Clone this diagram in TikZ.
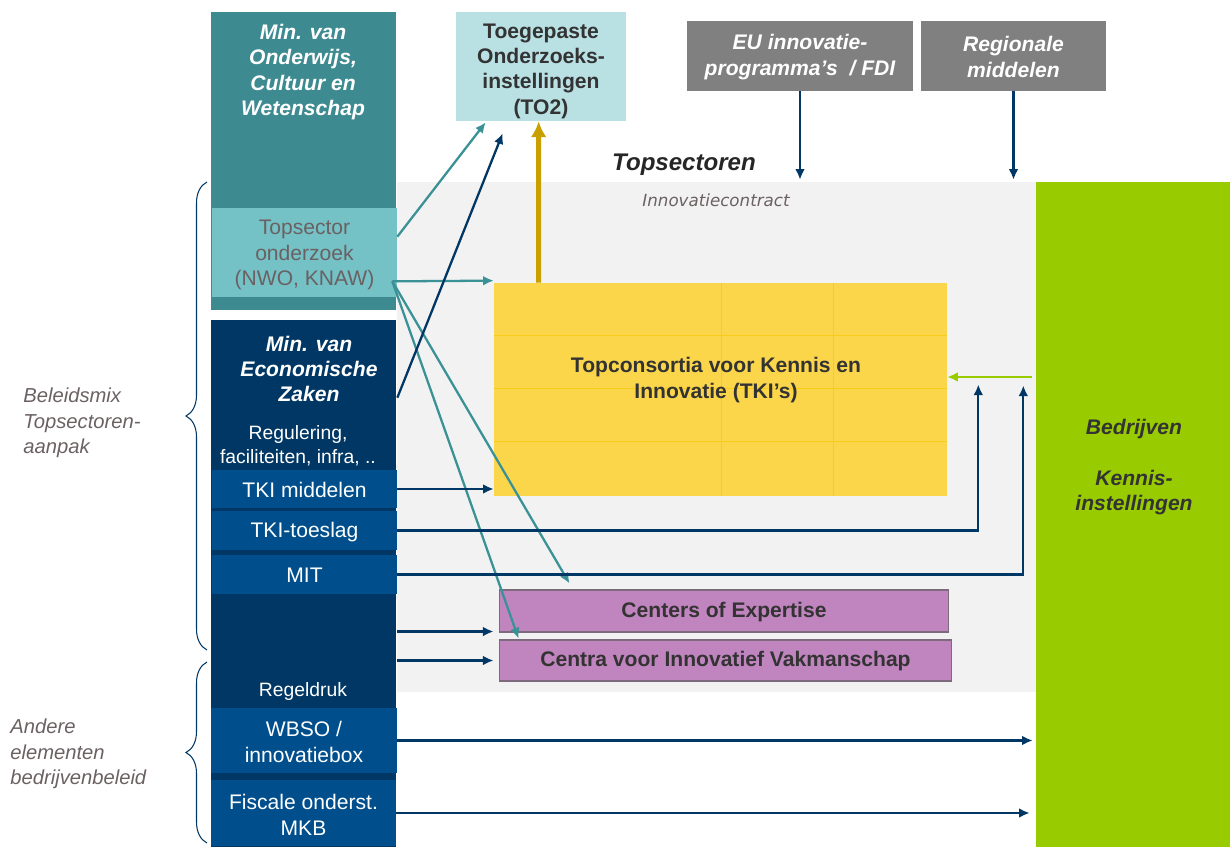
\documentclass[tikz,border=0pt]{standalone}
\usepackage{fontspec}
\setmainfont{Liberation Sans}
\newfontfamily\verdana{DejaVu Sans}
\usetikzlibrary{calc,arrows.meta,decorations.pathreplacing}

\definecolor{ocwteal}{HTML}{3D8B91}
\definecolor{tsoteal}{HTML}{74C1C6}
\definecolor{eznavy}{HTML}{003764}
\definecolor{ezblue}{HTML}{004F8C}
\definecolor{to2blue}{HTML}{B9E0E3}
\definecolor{eugray}{HTML}{808080}
\definecolor{bggray}{HTML}{F2F2F2}
\definecolor{groen}{HTML}{99CC00}
\definecolor{tkigeel}{HTML}{FBD64B}
\definecolor{tkilijn}{HTML}{F9CC1A}
\definecolor{paars}{HTML}{C084BE}
\definecolor{paarsrand}{HTML}{7E6A7D}
\definecolor{pijlteal}{HTML}{3A9196}
\definecolor{goud}{HTML}{C8A000}
\definecolor{labelgrijs}{HTML}{6B6162}
\definecolor{donker}{HTML}{333333}

\begin{document}
\begin{tikzpicture}[x=0.02cm, y=-0.02cm,
        box/.style = {rectangle, inner sep=0pt, minimum width=3.7cm},
        txt/.style = {font=\fontsize{12}{14.4}\selectfont, align=center, inner sep=0pt},
        bi/.style = {font=\fontsize{12}{14.4}\selectfont\bfseries\itshape},
        ar/.style = {line width=1.3pt, eznavy, -{Latex[length=6pt, width=5.5pt]}},
        tar/.style = {line width=1.3pt, pijlteal, -{Latex[length=6pt, width=5.5pt]}}]
        \useasboundingbox (0,0) rectangle (1230,847);

        % topsectoren achtergrond
        \node[fill=bggray, inner sep=0pt, minimum width=12.78cm, minimum height=10.2cm] (bg) at (716.5,437) {};
        \node[txt, font=\fontsize{13.7}{16}\selectfont\bfseries\itshape, text=black!85] (topsec) at (684,165) {Topsectoren};
        \node[txt, font=\verdana\itshape\fontsize{9.5}{11}\selectfont, text=labelgrijs] (contract) at (716,200) {Innovatiecontract};

        \node[box, fill=groen, minimum width=3.88cm, minimum height=13.3cm] (bedr) at (1133,514.5) {};
        \node[txt, bi, text=donker] (bedrtxt) at (1134,467) {Bedrijven\\[14.8pt]Kennis-\\instellingen};

        % ministeries
        \node[box, fill=ocwteal, minimum height=5.96cm] (ocw) at (303.5,161) {};
        \node[txt, bi, text=white] (ocwtxt) at (303,72) {Min. van\\Onderwijs,\\Cultuur en\\Wetenschap};
        \node[box, fill=tsoteal, minimum height=1.78cm] (tso) at (304.5,252.5) {};
        \node[txt, text=labelgrijs] (tsotxt) at (304.5,255) {Topsector\\onderzoek\\(NWO, KNAW)};

        \node[box, fill=eznavy, minimum height=10.54cm] (ez) at (303.5,583.5) {};
        \node[txt, bi, text=white] (eztxt) at (309,369) {Min. van\\Economische\\Zaken};
        \node[txt, font=\fontsize{11}{13.6}\selectfont, text=white] (regul) at (298,446) {Regulering,\\faciliteiten, infra, ..};
        \node[box, fill=ezblue, minimum height=0.76cm] (tkim) at (304.5,489) {};
        \node[txt, text=white] (tkimtxt) at (304.5,489.5) {TKI middelen};
        \node[box, fill=ezblue, minimum height=0.78cm] (tkit) at (304.5,530.5) {};
        \node[txt, text=white] (tkittxt) at (304.5,532) {TKI-toeslag};
        \node[box, fill=ezblue, minimum height=0.78cm] (mit) at (304.5,574.5) {};
        \node[txt, text=white] (mittxt) at (304.5,575) {MIT};
        \node[txt, text=white, font=\fontsize{11}{13}\selectfont] (regeld) at (303,692) {Regeldruk};
        \node[box, fill=ezblue, minimum width=3.72cm, minimum height=1.3cm] (wbso) at (304,740.5) {};
        \node[txt, text=white] (wbsotxt) at (304,742) {WBSO /\\innovatiebox};
        \node[box, fill=ezblue, minimum height=1.32cm] (fisc) at (303.5,813) {};
        \node[txt, text=white] (fisctxt) at (303.5,815) {Fiscale onderst.\\MKB};

        % bovenkant
        \node[box, fill=to2blue, minimum width=3.4cm, minimum height=2.18cm] (to2) at (541,66.5) {};
        \node[txt, font=\fontsize{12}{14.4}\selectfont\bfseries, text=donker] (to2txt) at (541,71) {Toegepaste\\Onderzoeks-\\instellingen\\(TO2)};
        \node[box, fill=eugray, minimum width=4.54cm, minimum height=1.4cm] (eu) at (800,56) {};
        \node[txt, bi, text=white] (eutxt) at (800,57) {EU innovatie-\\programma's\ \ / FDI};
        \node[box, fill=eugray, minimum height=1.4cm] (reg) at (1013.5,56) {};
        \node[txt, bi, text=white] (regtxt) at (1013.5,57) {Regionale\\middelen};

        % TKI's en centra
        \node[box, fill=tkigeel, minimum width=9.06cm, minimum height=4.26cm] (tki) at (720.5,389.5) {};
        \foreach \dx in {228,340}
            \draw[tkilijn, line width=0.4pt] ($(tki.north west)+(\dx,0)$) -- ($(tki.south west)+(\dx,0)$);
        \foreach \dy in {53,106,159}
            \draw[tkilijn, line width=0.4pt] ($(tki.north west)+(0,\dy)$) -- ($(tki.north east)+(0,\dy)$);
        \node[txt, font=\fontsize{12}{14.4}\selectfont\bfseries, text=donker] (tkitxt) at (716,380) {Topconsortia voor Kennis en\\Innovatie (TKI's)};

        \node[box, fill=paars, draw=paarsrand, line width=0.6pt, minimum width=9.0cm, minimum height=0.84cm,
              text height=0.716em, text depth=0pt,
              font=\fontsize{12}{14.4}\selectfont\bfseries, text=donker] (coe) at (724,611) {Centers of Expertise};
        \node[box, fill=paars, draw=paarsrand, line width=0.6pt, minimum width=9.06cm, minimum height=0.82cm,
              text height=0.716em, text depth=0pt,
              font=\fontsize{12}{14.4}\selectfont\bfseries, text=donker] (cvv) at (725.5,660.5) {Centra voor Innovatief Vakmanschap};

        % links: accolades
        \coordinate (b1top) at (207,182);
        \coordinate (b1bot) at (207,650);
        \coordinate (b2top) at (207,662);
        \coordinate (b2bot) at (207,843);
        \draw[eznavy, line width=0.6pt, decorate, decoration={brace, amplitude=0.42cm}] (b1bot) -- (b1top);
        \draw[eznavy, line width=0.6pt, decorate, decoration={brace, amplitude=0.42cm}] (b2bot) -- (b2top);
        \node[txt, anchor=west, align=left, font=\fontsize{11.5}{14.6}\selectfont\itshape, text=labelgrijs] (mix) at (23,423) {Beleidsmix\\Topsectoren-\\aanpak};
        \node[txt, anchor=west, align=left, font=\fontsize{11.5}{14.6}\selectfont\itshape, text=labelgrijs] (andere) at (10,754) {Andere\\elementen\\bedrijvenbeleid};

        % pijlen
        \coordinate (fan) at ($(tso.south east)+(-5,-16)$);
        \draw[tar] ($(tso.north east)+(0,29)$) -- ($(to2.south west)+(30,1)$);
        \draw[tar] (fan) -- ($(tki.north west)+(0,-2)$);
        \draw[tar] (fan) -- ($(coe.north west)+(71,-6)$);
        \draw[tar] (fan) -- ($(cvv.north west)+(20,-1)$);
        \draw[ar] ($(ez.north east)+(1,78)$) -- ($(to2.south west)+(47,12)$);
        \draw[line width=2.8pt, goud, -{Latex[length=9pt, width=9pt]}] ($(tki.north west)+(45,0)$) -- ($(to2.south west)+(83,0)$);

        \draw[ar] (eu.south) -- ($(eu.south |- bg.north)+(0,-2)$);
        \draw[ar] (reg.south) -- ($(reg.south |- bg.north)+(0,-2)$);

        \coordinate (toeslagtop) at ($(tki.east)+(31,-5)$);
        \coordinate (mittop) at ($(tki.east)+(76,-4)$);
        \draw[ar] (tkim.east) -- (tkim.east -| tki.west);
        \draw[ar] (tkit.east) -| (toeslagtop);
        \draw[ar] (mit.east) -| (mittop);
        \draw[line width=1.3pt, groen, -{Latex[length=6pt, width=5.5pt]}] ($(tki.east -| bedr.west)+(-4,-12.5)$) -- ($(tki.east)+(0,-12.5)$);

        \draw[ar] ($(coe.south west -| ez.east)+(1,-1)$) -- ($(coe.south west)+(-5,-1)$);
        \draw[ar] ($(cvv.west -| ez.east)+(1,0)$) -- ($(cvv.west)+(-5,0)$);
        \draw[ar] (wbso.east) -- ($(wbso.east -| bedr.west)+(-3,0)$);
        \draw[ar] (fisc.east) -- ($(fisc.east -| bedr.west)+(-6,0)$);
\end{tikzpicture}
\end{document}
